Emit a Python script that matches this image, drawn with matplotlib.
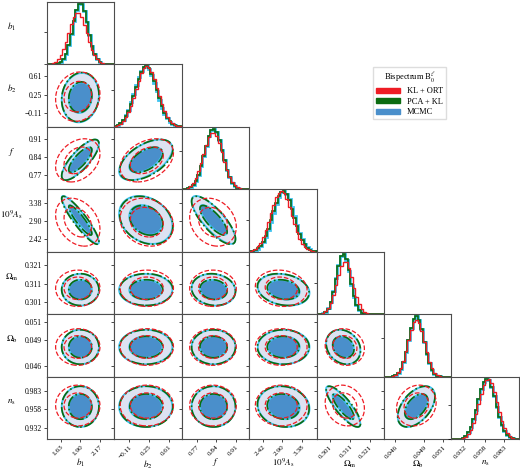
import numpy as np
import matplotlib
matplotlib.use("Agg")
import matplotlib.pyplot as plt
from matplotlib.patches import Patch
from matplotlib.ticker import MaxNLocator

plt.rcParams['font.family'] = ['Liberation Serif', 'DejaVu Serif']
plt.rcParams['mathtext.fontset'] = 'stix'

# parameters, axis ranges and tick labels
labels = [r'$b_1$', r'$b_2$', r'$f$', r'$10^9A_{\rm s}$', r'$\Omega_{\rm m}$', r'$\Omega_{\rm b}$', r'$n_{\rm s}$']
ranges = [(1.436, 2.367), (-0.39, 0.85), (0.716, 0.957), (2.09, 3.75),
          (0.2944, 0.3281), (0.0448, 0.0519), (0.9156, 1.002)]
ticks = [[1.63, 1.90, 2.17], [-0.11, 0.25, 0.61], [0.77, 0.84, 0.91], [2.42, 2.90, 3.38],
         [0.301, 0.311, 0.321], [0.046, 0.049, 0.051], [0.932, 0.958, 0.983]]
tick_labels = [['1.63', '1.90', '2.17'], ['\u22120.11', '0.25', '0.61'], ['0.77', '0.84', '0.91'],
               ['2.42', '2.90', '3.38'], ['0.301', '0.311', '0.321'], ['0.046', '0.049', '0.051'],
               ['0.932', '0.958', '0.983']]

methods = ['KL + ORT', 'PCA + KL', 'MCMC']

# posterior summaries (mean, sigma, correlation) per method
mean_klort = [1.865, 0.21, 0.828, 2.88, 0.3085, 0.0482, 0.9625]
sigma_klort = [0.125, 0.20, 0.034, 0.26, 0.0040, 0.00085, 0.0115]
mean_pcakl = [1.90, 0.20, 0.830, 2.93, 0.3078, 0.0482, 0.961]
sigma_pcakl = [0.105, 0.20, 0.032, 0.26, 0.0035, 0.0008, 0.0115]
mean_mcmc = [1.90, 0.19, 0.830, 2.94, 0.3077, 0.0482, 0.961]
sigma_mcmc = [0.105, 0.20, 0.032, 0.26, 0.0035, 0.0008, 0.0115]

#            b1     b2     f      As     Om     Ob     ns
corr_mcmc = [[1.00, 0.10, 0.80, -0.92, 0.00, 0.00, 0.00],
             [0.10, 1.00, 0.55, -0.25, 0.00, 0.00, 0.00],
             [0.80, 0.55, 1.00, -0.80, -0.10, 0.00, 0.00],
             [-0.92, -0.25, -0.80, 1.00, -0.20, 0.00, -0.10],
             [0.00, 0.00, -0.10, -0.20, 1.00, -0.20, -0.85],
             [0.00, 0.00, 0.00, 0.00, -0.20, 1.00, 0.50],
             [0.00, 0.00, 0.00, -0.10, -0.85, 0.50, 1.00]]
corr_pcakl = [[1.00, 0.10, 0.78, -0.90, 0.00, 0.00, 0.00],
              [0.10, 1.00, 0.52, -0.25, 0.00, 0.00, 0.00],
              [0.78, 0.52, 1.00, -0.78, -0.10, 0.00, 0.00],
              [-0.90, -0.25, -0.78, 1.00, -0.20, 0.00, -0.10],
              [0.00, 0.00, -0.10, -0.20, 1.00, -0.20, -0.82],
              [0.00, 0.00, 0.00, 0.00, -0.20, 1.00, 0.48],
              [0.00, 0.00, 0.00, -0.10, -0.82, 0.48, 1.00]]
corr_klort = [[1.00, 0.10, 0.30, -0.30, 0.00, 0.00, 0.00],
              [0.10, 1.00, 0.35, -0.15, 0.00, 0.00, 0.00],
              [0.30, 0.35, 1.00, -0.20, 0.00, 0.00, 0.00],
              [-0.30, -0.15, -0.20, 1.00, -0.10, 0.00, 0.00],
              [0.00, 0.00, 0.00, -0.10, 1.00, -0.10, -0.15],
              [0.00, 0.00, 0.00, 0.00, -0.10, 1.00, 0.15],
              [0.00, 0.00, 0.00, 0.00, -0.15, 0.15, 1.00]]

red = '#ee1c24'
green = '#0b6b10'
cyan = '#3ec3ef'
blue_in = '#4a8fcb'
blue_out = '#dde2f1'

levels = [2.296, 5.991]  # 68% and 95% in 2D


def mahal(i, j, mean, sigma, corr, X, Y):
    dx = (X - mean[j]) / sigma[j]
    dy = (Y - mean[i]) / sigma[i]
    r = corr[i][j]
    return (dx ** 2 - 2 * r * dx * dy + dy ** 2) / (1 - r ** 2)


n = len(labels)
fig, axes = plt.subplots(n, n, figsize=(5.2, 4.71), dpi=100)
fig.subplots_adjust(left=0.0898, right=0.998, bottom=0.067, top=0.996, wspace=0, hspace=0)

hist_sets = [(mean_mcmc, sigma_mcmc, cyan, 2.0),
             (mean_pcakl, sigma_pcakl, green, 1.2),
             (mean_klort, sigma_klort, red, 1.0)]

for i in range(n):
    for j in range(n):
        ax = axes[i, j]
        if j > i:
            ax.axis('off')
            continue
        ax.set_xlim(ranges[j])
        if i == j:
            bins = np.linspace(ranges[j][0], ranges[j][1], 27)
            centers = 0.5 * (bins[1:] + bins[:-1])
            top = 0
            for mean, sigma, color, lw in hist_sets:
                h = np.exp(-0.5 * ((centers - mean[j]) / sigma[j]) ** 2) / sigma[j]
                ax.stairs(h, bins, color=color, lw=lw)
                top = max(top, h.max())
            ax.set_ylim(0, top * 1.03)
            ax.yaxis.set_major_locator(MaxNLocator(2))
            ax.tick_params(labelleft=False)
        else:
            ax.set_ylim(ranges[i])
            xs = np.linspace(ranges[j][0], ranges[j][1], 160)
            ys = np.linspace(ranges[i][0], ranges[i][1], 160)
            X, Y = np.meshgrid(xs, ys)
            d_m = mahal(i, j, mean_mcmc, sigma_mcmc, corr_mcmc, X, Y)
            ax.contourf(X, Y, d_m, levels=[0, levels[0], levels[1]], colors=[blue_in, blue_out])
            ax.contour(X, Y, d_m, levels=levels, colors=cyan, linewidths=1.3)
            d_p = mahal(i, j, mean_pcakl, sigma_pcakl, corr_pcakl, X, Y)
            ax.contour(X, Y, d_p, levels=levels, colors=green, linewidths=1.2, linestyles='dashdot')
            d_k = mahal(i, j, mean_klort, sigma_klort, corr_klort, X, Y)
            ax.contour(X, Y, d_k, levels=levels, colors=red, linewidths=0.9, linestyles='dashed')
            ax.set_yticks(ticks[i])
            if j == 0:
                ax.set_yticklabels(tick_labels[i])
            else:
                ax.tick_params(labelleft=False)
        ax.set_xticks(ticks[j])
        ax.tick_params(labelsize=5.5, length=2.5, width=0.5, pad=1)
        if i == n - 1:
            ax.set_xticklabels(tick_labels[j], rotation=45, ha='right', rotation_mode='anchor',
                               fontsize=5.2)
            ax.set_xlabel(labels[j], fontsize=6.5, labelpad=-0.3)
        else:
            ax.tick_params(labelbottom=False)
        if j == 0:
            ax.set_ylabel(labels[i], fontsize=6.5, rotation=0, ha='center', va='center')
            ax.yaxis.set_label_coords(-0.52, 0.6)
        for sp in ax.spines.values():
            sp.set_color('0.3')
            sp.set_linewidth(0.8)

handles = [Patch(color=red), Patch(color=green), Patch(color=blue_in)]
leg = fig.legend(handles, methods, title=r'Bispectrum B$_0^\ell$', loc='upper left',
                 bbox_to_anchor=(0.717, 0.858), borderaxespad=0, fontsize=6, title_fontsize=6,
                 handlelength=2.9, handleheight=0.6, labelspacing=0.3,
                 frameon=True, fancybox=False, edgecolor='#dddddd', framealpha=1)

fig.savefig('out.png', dpi=100)
